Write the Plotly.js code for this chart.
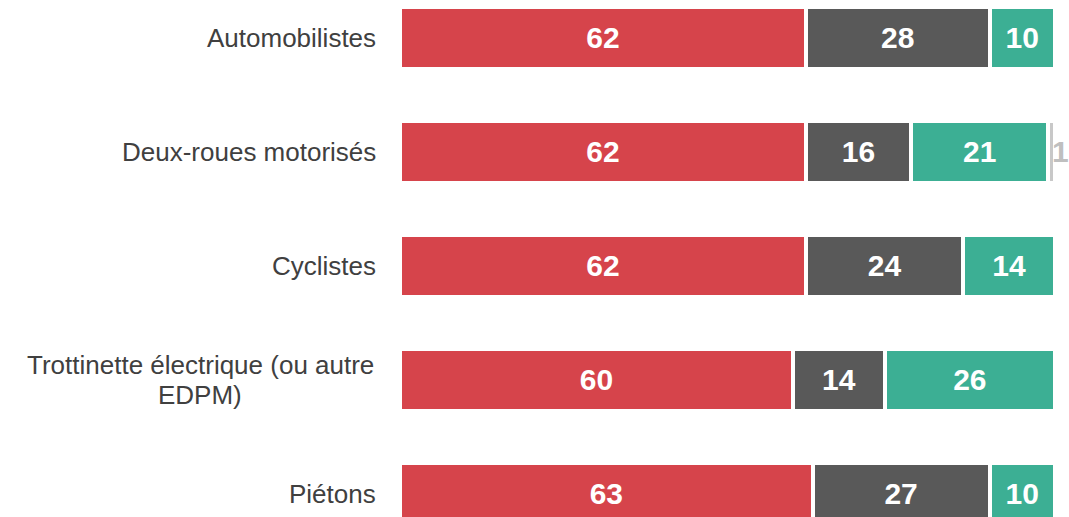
<!DOCTYPE html>
<html><head><meta charset="utf-8">
<script src="https://cdn.plot.ly/plotly-3.0.1.min.js"></script>
<style>html,body{margin:0;padding:0;background:#fff}#chart{width:1069px;height:517px}</style>
</head><body><div id="chart"></div>
<script>
const categories = ["Automobilistes", "Deux-roues motorisés", "Cyclistes", "Trottinette électrique (ou autre<br>EDPM)", "Piétons"];
const seriesRed = [62, 62, 62, 60, 63];
const seriesGray = [28, 16, 24, 14, 27];
const seriesTeal = [10, 21, 14, 26, 10];
const seriesLight = [0, 1, 0, 0, 0];

const colors = ["#d6444b", "#595959", "#3caf94", "#c8c8c8"];
const all = [seriesRed, seriesGray, seriesTeal, seriesLight];
const FONT = "Liberation Sans";

const traces = all.map((vals, i) => ({
  type: "bar",
  orientation: "h",
  y: categories,
  x: vals,
  width: 0.544,
  marker: {color: colors[i], line: {color: "#ffffff", width: 4}},
  text: i === 3 ? vals.map(() => "") : vals.map(v => v ? String(v) : ""),
  textposition: "inside",
  insidetextanchor: "middle",
  cliponaxis: false,
  constraintext: "none",
  textfont: {family: FONT, size: 30, color: "#ffffff", weight: "bold"},
  hoverinfo: "none"
}));

const annotations = [];
categories.forEach(c => {
  const lines = c.split("<br>");
  const n = lines.length;
  lines.forEach((ln, j) => {
    annotations.push({
      xref: "paper", yref: "y", x: 0, y: c,
      xanchor: n > 1 ? "center" : "right", yanchor: "middle",
      xshift: n > 1 ? -200 : -22,
      yshift: ((n - 1) / 2 - j) * 30,
      text: ln, showarrow: false, align: "center",
      font: {family: FONT, size: 26, color: "#404040"}
    });
  });
});

// outside label for the small light segment
categories.forEach((c, k) => {
  if (seriesLight[k]) {
    const total = seriesRed[k] + seriesGray[k] + seriesTeal[k] + seriesLight[k];
    annotations.push({
      xref: "x", yref: "y", x: total, y: c, xanchor: "left", yanchor: "middle",
      xshift: -5, text: String(seriesLight[k]), showarrow: false,
      font: {family: FONT, size: 30, color: "#bfbfbf", weight: "bold"}
    });
  }
});

const layout = {
  barmode: "stack",
  showlegend: false,
  margin: {l: 400, r: 14, t: 0, b: 0},
  paper_bgcolor: "#ffffff",
  plot_bgcolor: "#ffffff",
  xaxis: {range: [0, 100], visible: false, fixedrange: true},
  yaxis: {type: "category", range: [4.202, -0.333], showticklabels: false, showgrid: false, zeroline: false, showline: false, ticks: ""},
  annotations: annotations,
  uniformtext: {mode: false}
};

Plotly.newPlot("chart", traces, layout, {displayModeBar: false, staticPlot: true});
</script></body></html>
